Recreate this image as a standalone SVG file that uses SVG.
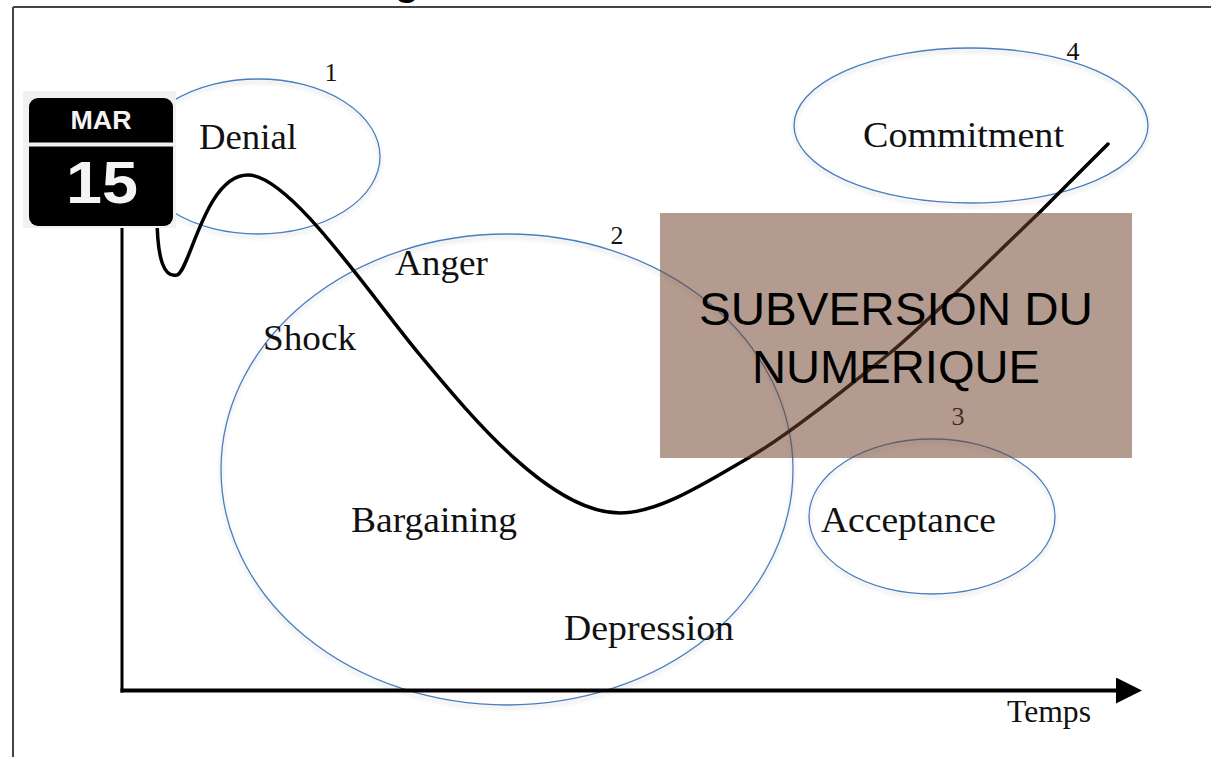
<svg xmlns="http://www.w3.org/2000/svg" width="1211" height="757" viewBox="0 0 1211 757">
<style>
.ell{fill:none;stroke:#4a7ebf;stroke-width:1.3;filter:url(#sh)}
.lbl{font-family:"Liberation Serif","Times New Roman",serif;font-size:35px;fill:#111}
.num{font-family:"Liberation Serif","Times New Roman",serif;font-size:26px;fill:#111;text-anchor:middle}
.axis{stroke:#000;fill:none}
</style>
<defs>
<filter id="sh" x="-10%" y="-10%" width="120%" height="125%">
<feDropShadow dx="0" dy="3" stdDeviation="2" flood-color="#000" flood-opacity="0.18"/>
</filter>
<marker id="arr" viewBox="0 0 26 26" refX="0" refY="13" markerWidth="26" markerHeight="26" markerUnits="userSpaceOnUse" orient="auto">
<path d="M0,0 L26,13 L0,26 Z" fill="#000"/>
</marker>
</defs>
<rect width="1211" height="757" fill="#fff"/>
<g id="frame">
<line x1="13" y1="7" x2="1211" y2="7" stroke="#444" stroke-width="2"/>
<line x1="13" y1="7" x2="13" y2="757" stroke="#444" stroke-width="2"/>
<text x="407" y="-5" text-anchor="middle" font-family="Liberation Sans, Arial, sans-serif" font-weight="bold" font-size="40" fill="#000">g</text>
</g>
<g id="stage-1">
<ellipse class="ell" cx="258" cy="156.5" rx="122" ry="77.5"/>
<text class="num" x="331" y="81">1</text>
<text class="lbl" x="199" y="149" textLength="98" lengthAdjust="spacingAndGlyphs">Denial</text>
</g>
<g id="stage-2">
<ellipse class="ell" cx="507" cy="469.5" rx="286" ry="235.5"/>
<text class="num" x="617" y="244">2</text>
<text class="lbl" x="395" y="275" textLength="93" lengthAdjust="spacingAndGlyphs">Anger</text>
<text class="lbl" x="263" y="350" textLength="93" lengthAdjust="spacingAndGlyphs">Shock</text>
<text class="lbl" x="351" y="532" textLength="166" lengthAdjust="spacingAndGlyphs">Bargaining</text>
<text class="lbl" x="564" y="640" textLength="170" lengthAdjust="spacingAndGlyphs">Depression</text>
</g>
<g id="stage-3">
<ellipse class="ell" cx="932" cy="516.5" rx="123" ry="77.5"/>
<text class="num" x="958" y="425">3</text>
<text class="lbl" x="821" y="532" textLength="175" lengthAdjust="spacingAndGlyphs">Acceptance</text>
</g>
<g id="stage-4">
<ellipse class="ell" cx="971" cy="125.5" rx="177" ry="77.5"/>
<text class="num" x="1073" y="60">4</text>
<text class="lbl" x="863" y="147" textLength="201" lengthAdjust="spacingAndGlyphs">Commitment</text>
</g>
<g id="connectors">
<line class="axis" x1="122" y1="215" x2="122" y2="692.5" stroke-width="3"/>
<line class="axis" x1="120.5" y1="690.5" x2="1116" y2="690.5" stroke-width="4" marker-end="url(#arr)"/>
<path class="axis" stroke-width="3.5" stroke-linecap="round" d="M157,215 C157,262 165,278 177,275 C190,271 205,175 248,175 C290,175 370,295 420,355 C470,415 550,513 620,513 C660,513 710,480 750,457 C790,434 850,385 890,353 C930,320 1000,250 1040,212 C1060,192 1090,162 1108,144"/>
<text x="1007" y="722" font-family="Liberation Serif, Times New Roman, serif" font-size="31" fill="#111" textLength="84" lengthAdjust="spacingAndGlyphs">Temps</text>
</g>
<g id="calendar">
<rect x="23" y="91" width="153" height="137" fill="#f1f1f1"/>
<rect x="29" y="98" width="144" height="128" rx="9" fill="#000"/>
<line x1="29" y1="144.5" x2="173" y2="144.5" stroke="#f1f1f1" stroke-width="4"/>
<text x="101" y="129" text-anchor="middle" font-family="Liberation Sans, Arial, sans-serif" font-weight="bold" font-size="25" fill="#f4f4f4" textLength="61" lengthAdjust="spacingAndGlyphs">MAR</text>
<text x="102" y="203" text-anchor="middle" font-family="Liberation Sans, Arial, sans-serif" font-weight="bold" font-size="59" fill="#f4f4f4" textLength="72" lengthAdjust="spacingAndGlyphs">15</text>
</g>
<g id="overlay">
<rect x="660" y="213" width="472" height="245" fill="rgb(111,68,43)" fill-opacity="0.53"/>
<text x="896" y="325" text-anchor="middle" font-family="Liberation Sans, Arial, sans-serif" font-size="47" fill="#000" textLength="394" lengthAdjust="spacingAndGlyphs">SUBVERSION DU</text>
<text x="896" y="383" text-anchor="middle" font-family="Liberation Sans, Arial, sans-serif" font-size="47" fill="#000" textLength="288" lengthAdjust="spacingAndGlyphs">NUMERIQUE</text>
</g>
</svg>
